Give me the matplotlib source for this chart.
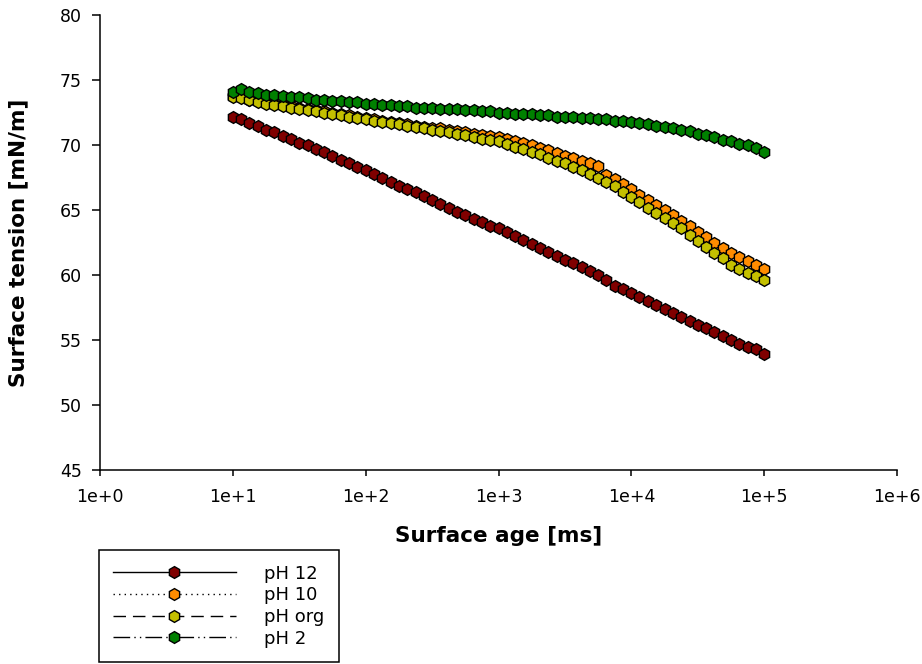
import matplotlib
matplotlib.use("Agg")
import matplotlib.pyplot as plt
from matplotlib.lines import Line2D

plt.rcParams['font.family'] = ['DejaVu Sans']

# surface age [ms], shared by all four runs
ages = [10, 11.5, 13.3, 15.4, 17.8, 20.5, 23.7, 27.4, 31.6, 36.5, 42.2, 48.7,
        56.2, 64.9, 75.0, 86.6, 100, 115, 133, 154, 178, 205, 237, 274, 316,
        365, 422, 487, 562, 649, 750, 866, 1000, 1150, 1330, 1540, 1780, 2050,
        2370, 2740, 3160, 3650, 4220, 4870, 5620, 6490, 7500, 8660, 10000,
        11500, 13300, 15400, 17800, 20500, 23700, 27400, 31600, 36500, 42200,
        48700, 56200, 64900, 75000, 86600, 100000]

ph12 = [72.2, 72.0, 71.7, 71.5, 71.2, 71.0, 70.7, 70.5, 70.2, 70.0, 69.7, 69.5,
        69.2, 68.9, 68.6, 68.3, 68.1, 67.8, 67.5, 67.2, 66.9, 66.6, 66.4, 66.1,
        65.8, 65.5, 65.2, 64.9, 64.6, 64.3, 64.1, 63.8, 63.6, 63.3, 63.0, 62.7,
        62.4, 62.1, 61.8, 61.5, 61.2, 60.9, 60.6, 60.3, 60.0, 59.6, 59.2, 58.9,
        58.6, 58.3, 58.0, 57.7, 57.4, 57.1, 56.8, 56.5, 56.2, 55.9, 55.6, 55.3,
        55.0, 54.7, 54.5, 54.3, 53.9]

ph10 = [73.8, 73.7, 73.5, 73.4, 73.3, 73.2, 73.1, 73.0, 72.9, 72.8, 72.7, 72.6,
        72.5, 72.4, 72.3, 72.2, 72.1, 72.0, 71.9, 71.8, 71.7, 71.6, 71.5, 71.4,
        71.3, 71.3, 71.2, 71.1, 71.0, 70.9, 70.8, 70.7, 70.6, 70.5, 70.3, 70.2,
        70.0, 69.8, 69.6, 69.4, 69.2, 69.0, 68.8, 68.6, 68.4, 67.7, 67.4, 67.0,
        66.6, 66.2, 65.8, 65.4, 65.0, 64.6, 64.2, 63.8, 63.3, 62.9, 62.5, 62.1,
        61.7, 61.4, 61.1, 60.8, 60.5]

ph_org = [73.7, 73.6, 73.5, 73.3, 73.2, 73.1, 73.0, 72.9, 72.8, 72.7, 72.6, 72.5,
          72.4, 72.3, 72.2, 72.1, 72.0, 71.9, 71.8, 71.7, 71.6, 71.5, 71.4, 71.3,
          71.2, 71.1, 71.0, 70.9, 70.8, 70.6, 70.5, 70.4, 70.3, 70.1, 69.9, 69.7,
          69.5, 69.3, 69.0, 68.8, 68.6, 68.3, 68.1, 67.8, 67.5, 67.2, 66.9, 66.4,
          66.0, 65.6, 65.2, 64.8, 64.4, 64.0, 63.6, 63.1, 62.6, 62.2, 61.7, 61.3,
          60.8, 60.5, 60.2, 59.9, 59.6]

ph2 = [74.1, 74.3, 74.1, 74.0, 73.9, 73.9, 73.8, 73.7, 73.7, 73.6, 73.5, 73.5,
       73.4, 73.4, 73.3, 73.3, 73.2, 73.2, 73.1, 73.1, 73.0, 73.0, 72.9, 72.9,
       72.9, 72.8, 72.8, 72.8, 72.7, 72.7, 72.6, 72.6, 72.5, 72.5, 72.4, 72.4,
       72.4, 72.3, 72.3, 72.2, 72.2, 72.2, 72.1, 72.1, 72.0, 72.0, 71.9, 71.9,
       71.8, 71.7, 71.6, 71.5, 71.4, 71.3, 71.2, 71.1, 70.9, 70.8, 70.6, 70.4,
       70.3, 70.1, 70.0, 69.8, 69.5]

labels = ["pH 12", "pH 10", "pH org", "pH 2"]
colors = ["#800000", "#ff8c00", "#c4c000", "#008000"]
styles = ["-", (0, (1, 3)), (0, (9, 5)), (0, (12, 3, 1, 3, 1, 3))]
series = [ph12, ph10, ph_org, ph2]

fig = plt.figure(figsize=(9.22, 6.64), dpi=100)
ax = fig.add_axes([0.1085, 0.292, 0.8645, 0.685])

for vals, col in zip(series, colors):
    ax.plot(ages, vals, linestyle="none", marker="h", markersize=8.5,
            markerfacecolor=col, markeredgecolor="black", markeredgewidth=1.0)

ax.set_xscale("log")
ax.set_xlim(1, 1e6)
ax.set_ylim(45, 80)
ax.set_xticks([1, 10, 100, 1e3, 1e4, 1e5, 1e6])
ax.set_xticklabels(["1e+0", "1e+1", "1e+2", "1e+3", "1e+4", "1e+5", "1e+6"])
ax.xaxis.set_minor_locator(plt.NullLocator())
ax.set_yticks(range(45, 81, 5))
ax.tick_params(axis="y", direction="out", length=6, width=1.1, labelsize=12.5, pad=7)
ax.tick_params(axis="x", direction="out", length=4, width=1.1, labelsize=12.5, pad=9)
for s in ["left", "bottom"]:
    ax.spines[s].set_linewidth(1.1)
ax.spines["top"].set_visible(False)
ax.spines["right"].set_visible(False)
ax.set_xlabel("Surface age [ms]", fontsize=15.5, fontweight="bold", labelpad=14)
ax.set_ylabel("Surface tension [mN/m]", fontsize=15.5, fontweight="bold", labelpad=23)

handles = [Line2D([], [], color="black", linewidth=1, linestyle=ls, marker="h",
                  markersize=8.5, markerfacecolor=col, markeredgecolor="black")
           for col, ls in zip(colors, styles)]
leg = fig.legend(handles, labels, loc="lower left", bbox_to_anchor=(0.107, 0.003),
                 fontsize=13, handlelength=6.8, handletextpad=1.55, labelspacing=0.2,
                 borderpad=0.8, borderaxespad=0, fancybox=False, edgecolor="black",
                 framealpha=1)
leg.get_frame().set_linewidth(1.1)

fig.savefig("out.png", dpi=100)
